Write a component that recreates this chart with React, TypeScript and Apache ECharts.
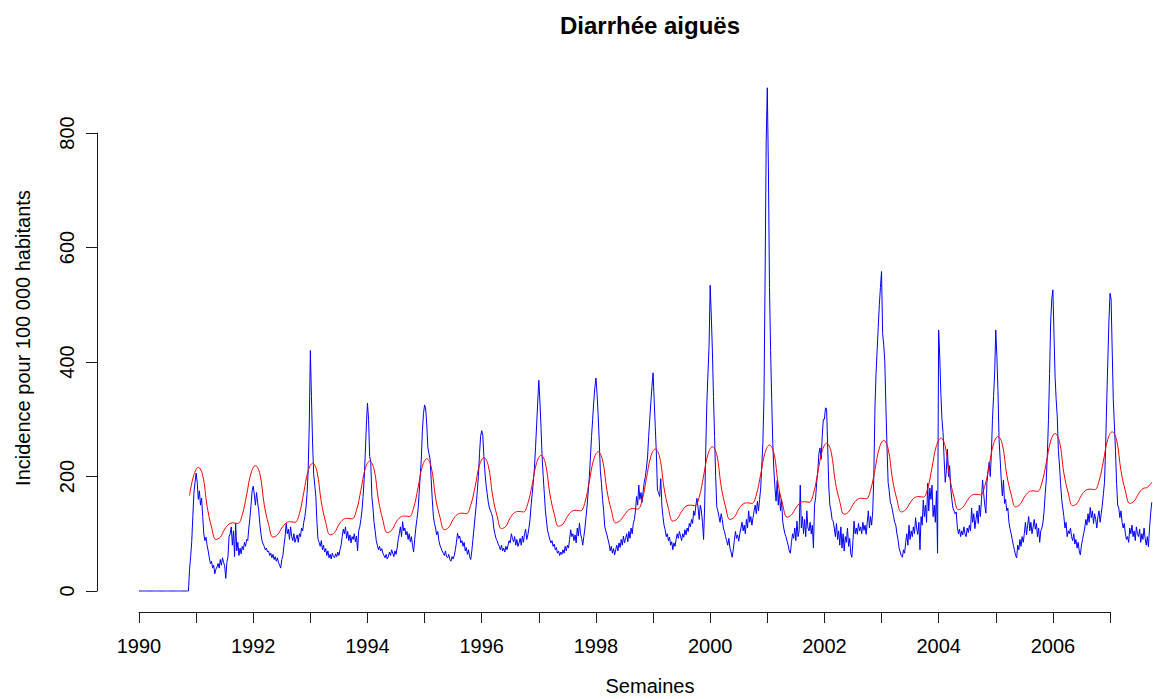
import React, { useEffect, useRef } from "react";
import * as echarts from "echarts";

// ---- Blue series: weekly incidence, one array per year (week 1..52) ----
const b1990 = [
  0, 0, 0, 0, 0, 0, 0, 0, 0, 0, 0, 0, 0, 0, 0, 0, 0, 0, 0, 0,
  0, 0, 0, 0, 0, 0, 0, 0, 0, 0, 0, 0, 0, 0, 0, 0, 0, 0, 0, 0,
  0, 0, 0, 0, 0, 0, 37, 60, 86, 130, 171, 190,
];
const b1991 = [
  206, 190, 160, 175, 150, 162, 130, 100, 88, 94,
  80, 70, 58, 48, 52, 40, 45, 30, 38, 42,
  48, 40, 55, 45, 58, 50, 44, 22, 50, 60,
  95, 100, 112, 80, 105, 60, 118, 70, 85, 62,
  75, 65, 78, 72, 85, 78, 90, 88, 110, 128,
  150, 175,
];
const b1992 = [
  183, 168, 150, 172, 155, 140, 118, 100, 88, 82,
  78, 72, 75, 68, 70, 62, 66, 58, 64, 55,
  60, 52, 58, 50, 45, 40, 55, 62, 80, 95,
  118, 100, 108, 90, 112, 95, 88, 100, 85, 92,
  98, 85, 100, 95, 110, 105, 120, 130, 145, 170,
  210, 290,
];
const b1993 = [
  420, 340, 260, 205, 185, 165, 120, 90, 85, 78,
  88, 72, 80, 68, 74, 62, 70, 58, 64, 56,
  66, 60, 58, 65, 60, 68, 62, 72, 80, 95,
  108, 100, 112, 92, 104, 88, 98, 84, 95, 90,
  100, 86, 96, 70, 105, 112, 125, 140, 165, 195,
  240, 290,
];
const b1994 = [
  328, 300, 235, 225, 165, 145, 120, 105, 88, 80,
  72, 78, 70, 74, 66, 62, 58, 64, 56, 60,
  68, 62, 72, 66, 60, 70, 64, 75, 90, 100,
  112, 95, 121, 105, 110, 98, 104, 90, 100, 86,
  95, 80, 68, 90, 110, 125, 140, 170, 200, 230,
  280, 310,
];
const b1995 = [
  325, 318, 290, 250, 240, 230, 195, 160, 130, 118,
  110, 98, 104, 88, 80, 75, 70, 66, 62, 70,
  60, 58, 64, 55, 52, 60, 56, 62, 72, 85,
  101, 92, 96, 84, 88, 78, 85, 70, 76, 64,
  72, 60, 55, 70, 90, 110, 130, 150, 175, 200,
  240, 270,
];
const b1996 = [
  280, 272, 235, 206, 185, 170, 155, 145, 140, 135,
  128, 110, 100, 92, 88, 82, 78, 72, 80, 70,
  75, 68, 78, 72, 80, 88, 84, 100, 92, 86,
  95, 80, 90, 78, 84, 92, 80, 96, 85, 100,
  108, 90, 98, 110, 125, 150, 170, 190, 215, 250,
  290, 330,
];
const b1997 = [
  368, 330, 286, 234, 200, 170, 140, 122, 105, 98,
  90, 84, 88, 78, 82, 72, 76, 66, 70, 62,
  68, 64, 72, 66, 78, 70, 80, 75, 90, 107,
  95, 100, 88, 98, 84, 110, 96, 119, 100, 92,
  80, 95, 110, 130, 150, 175, 200, 234, 270, 300,
  330, 355,
];
const b1998 = [
  372, 345, 308, 262, 211, 188, 160, 141, 113, 105,
  98, 90, 82, 70, 78, 66, 74, 63, 72, 80,
  70, 84, 76, 90, 80, 96, 84, 92, 100, 86,
  104, 92, 110, 100, 118, 125, 140, 165, 150, 185,
  160, 172, 155, 175, 190, 200, 215, 234, 270, 300,
  330, 357,
];
const b1999 = [
  381, 334, 287, 241, 176, 172, 165, 196, 150, 130,
  115, 107, 95, 100, 88, 94, 80, 86, 72, 84,
  78, 90, 100, 92, 104, 96, 88, 100, 94, 107,
  98, 110, 104, 118, 112, 125, 118, 140, 132, 150,
  162, 145, 125, 150, 140, 120, 90, 150, 250, 330,
  380, 430,
];
const b2000 = [
  534, 482, 421, 340, 270, 200, 147, 140, 130, 120,
  135, 125, 110, 104, 95, 88, 80, 92, 75, 68,
  59, 72, 88, 104, 92, 98, 87, 100, 110, 120,
  105, 115, 100, 125, 110, 140, 120, 130, 115, 128,
  140, 150, 135, 157, 140, 160, 180, 220, 260, 339,
  548, 784,
];
const b2001 = [
  879, 739, 530, 420, 335, 258, 211, 180, 157, 193,
  150, 175, 140, 160, 122, 110, 100, 95, 87, 80,
  70, 66, 85, 100, 92, 110, 88, 122, 95, 105,
  185, 110, 130, 100, 125, 95, 140, 110, 105, 120,
  100, 115, 75, 150, 163, 190, 210, 240, 250, 230,
  270, 300,
];
const b2002 = [
  300, 320, 318, 250, 182, 150, 140, 125, 122, 110,
  95, 118, 90, 105, 80, 112, 75, 100, 70, 95,
  85, 110, 78, 92, 65, 59, 88, 122, 100, 110,
  99, 118, 105, 112, 100, 120, 106, 115, 99, 120,
  140, 110, 130, 115, 140, 200, 320, 380, 420, 460,
  500, 530,
];
const b2003 = [
  558, 450, 430, 400, 320, 250, 190, 175, 155, 150,
  140, 130, 120, 115, 100, 90, 75, 68, 62, 59,
  72, 66, 85, 100, 80, 115, 90, 105, 95, 112,
  100, 128, 110, 99, 120, 72, 130, 115, 159, 130,
  150, 120, 188, 140, 180, 160, 185, 130, 150, 120,
  175, 66,
];
const b2004 = [
  456, 409, 346, 300, 277, 230, 190, 210, 248, 200,
  219, 180, 160, 145, 140, 135, 138, 112, 100, 108,
  95, 105, 98, 112, 100, 95, 110, 102, 115, 105,
  145, 120, 135, 109, 125, 140, 118, 150, 130, 160,
  194, 170, 150, 136, 190, 210, 225, 200, 240, 300,
  340, 381,
];
const b2005 = [
  456, 410, 350, 265, 230, 194, 166, 194, 153, 160,
  140, 145, 120, 109, 100, 90, 80, 72, 62, 58,
  80, 72, 90, 78, 95, 85, 100, 120, 98, 115,
  130, 105, 120, 100, 112, 125, 108, 118, 95, 110,
  85, 105, 110, 120, 140, 170, 194, 240, 300, 380,
  470, 510,
];
const b2006 = [
  526, 450, 374, 334, 304, 246, 220, 188, 160, 145,
  130, 110, 120, 95, 105, 100, 110, 95, 88, 100,
  82, 90, 75, 85, 70, 63, 80, 90, 100, 110,
  125, 115, 135, 120, 146, 128, 140, 118, 135, 125,
  110, 130, 140, 120, 135, 150, 170, 190, 250, 330,
  400, 470,
];
const b2007 = [
  520, 510, 421, 334, 290, 246, 188, 150, 145, 128,
  140, 120, 110, 118, 100, 90, 95, 85, 110, 100,
  115, 95, 105, 88, 112, 100, 95, 108, 85, 100,
  90, 110, 92, 80, 95, 77, 110, 135, 155,
];

const blueYears = [
  1990, 1991, 1992, 1993, 1994, 1995, 1996, 1997, 1998,
  1999, 2000, 2001, 2002, 2003, 2004, 2005, 2006, 2007,
];
const blueValues = [
  b1990, b1991, b1992, b1993, b1994, b1995, b1996, b1997, b1998,
  b1999, b2000, b2001, b2002, b2003, b2004, b2005, b2006, b2007,
];

// ---- Red series: seasonal baseline, sampled every 4 weeks ----
const redWeeks = [3, 7, 11, 15, 19, 23, 27, 31, 35, 39, 43, 47, 51];
const red1990Weeks = [47, 51];
const r1990 = [167, 203];
const r1991 = [216, 202, 148, 112, 90, 94, 108, 117, 119, 118, 133, 168, 206];
const r1992 = [219, 205, 151, 116, 94, 98, 110, 119, 121, 120, 135, 172, 210];
const r1993 = [223, 209, 155, 120, 98, 102, 116, 125, 127, 126, 141, 176, 214];
const r1994 = [227, 213, 159, 124, 102, 106, 120, 129, 131, 130, 145, 180, 218];
const r1995 = [231, 217, 163, 129, 107, 111, 125, 134, 136, 135, 150, 182, 220];
const r1996 = [233, 219, 166, 131, 109, 113, 128, 137, 139, 138, 153, 186, 224];
const r1997 = [237, 223, 170, 135, 113, 117, 130, 139, 141, 140, 155, 192, 230];
const r1998 = [243, 229, 176, 141, 119, 123, 133, 142, 144, 143, 158, 197, 235];
const r1999 = [248, 234, 180, 144, 122, 126, 139, 148, 150, 149, 164, 201, 239];
const r2000 = [252, 238, 183, 147, 125, 129, 143, 152, 154, 153, 168, 204, 242];
const r2001 = [255, 241, 186, 151, 129, 133, 145, 154, 156, 155, 170, 207, 245];
const r2002 = [258, 244, 190, 156, 134, 138, 151, 160, 162, 161, 176, 212, 250];
const r2003 = [263, 249, 195, 160, 138, 142, 154, 163, 165, 164, 179, 216, 254];
const r2004 = [267, 253, 199, 164, 142, 146, 158, 167, 169, 168, 183, 219, 257];
const r2005 = [270, 256, 203, 169, 147, 151, 164, 173, 175, 174, 189, 224, 262];
const r2006 = [275, 261, 206, 171, 149, 153, 167, 176, 178, 177, 192, 227, 265];
const r2007 = [278, 264, 210, 175, 153, 157, 170, 179, 181, 190];

const redYears = [
  1991, 1992, 1993, 1994, 1995, 1996, 1997, 1998, 1999,
  2000, 2001, 2002, 2003, 2004, 2005, 2006, 2007,
];
const redValues = [
  r1991, r1992, r1993, r1994, r1995, r1996, r1997, r1998, r1999,
  r2000, r2001, r2002, r2003, r2004, r2005, r2006, r2007,
];

// ---- Axis ticks / labels ----
const xTickYears = [1990, 2007];
const yTicks = [0, 800];
const title = "Diarrhée aiguës";
const xTitle = "Semaines";
const yTitle = "Incidence pour 100 000 habitants";

const FONT = "'Liberation Sans', Arial, Helvetica, sans-serif";

function buildBlue(): number[][] {
  const pts: number[][] = [];
  blueYears.forEach((yr, k) => {
    blueValues[k].forEach((v, i) => pts.push([yr + i / 52, v]));
  });
  return pts;
}

function buildRed(): number[][] {
  const pts: number[][] = [];
  r1990.forEach((v, i) => pts.push([1990 + (red1990Weeks[i] - 1) / 52, v]));
  redYears.forEach((yr, k) => {
    redValues[k].forEach((v, i) => pts.push([yr + (redWeeks[i] - 1) / 52, v]));
  });
  return pts;
}

export default function App() {
  const ref = useRef<HTMLDivElement>(null);

  useEffect(() => {
    if (!ref.current) return;
    const chart = echarts.init(ref.current, undefined, { renderer: "svg" });
    const pxPerYear = 971 / (xTickYears[1] - xTickYears[0]);
    const xMax = xTickYears[0] + 1014 / pxPerYear;
    const axisColor = "#1a1a1a";

    chart.setOption({
      animation: false,
      backgroundColor: "#ffffff",
      grid: [
        { left: 139, top: 75.75, width: 1014, height: 515.25 },
        { left: 139, top: 611, width: 971, height: 1 },
        { left: 97, top: 133, width: 1, height: 458 },
      ],
      xAxis: [
        { gridIndex: 0, type: "value", min: xTickYears[0], max: xMax, show: false },
        {
          gridIndex: 1,
          type: "value",
          min: xTickYears[0],
          max: xTickYears[1],
          interval: 1,
          axisLine: { show: true, lineStyle: { color: axisColor, width: 1 } },
          axisTick: { show: true, length: 11, lineStyle: { color: axisColor, width: 1 } },
          axisLabel: {
            show: true,
            fontSize: 20,
            fontFamily: FONT,
            color: "#000",
            margin: 24,
            showMinLabel: true,
            showMaxLabel: true,
            formatter: (v: number) => (Math.round(v) % 2 === 0 ? String(Math.round(v)) : ""),
          },
          splitLine: { show: false },
        },
        { gridIndex: 2, type: "value", show: false },
      ],
      yAxis: [
        { gridIndex: 0, type: "value", min: 0, max: 900, show: false },
        { gridIndex: 1, type: "value", show: false },
        {
          gridIndex: 2,
          type: "value",
          min: yTicks[0],
          max: yTicks[1],
          interval: 200,
          axisLine: { show: true, lineStyle: { color: axisColor, width: 1 } },
          axisTick: { show: true, length: 11, lineStyle: { color: axisColor, width: 1 } },
          axisLabel: {
            show: true,
            rotate: 90,
            fontSize: 20,
            fontFamily: FONT,
            color: "#000",
            margin: 20,
            showMinLabel: true,
            showMaxLabel: true,
          },
          splitLine: { show: false },
        },
      ],
      series: [
        {
          type: "line",
          xAxisIndex: 0,
          yAxisIndex: 0,
          data: buildBlue(),
          symbol: "none",
          showSymbol: false,
          clip: false,
          silent: true,
          lineStyle: { color: "#0000ff", width: 1 },
        },
        {
          type: "line",
          xAxisIndex: 0,
          yAxisIndex: 0,
          data: buildRed(),
          symbol: "none",
          showSymbol: false,
          smooth: 0.4,
          clip: false,
          silent: true,
          lineStyle: { color: "#ff0000", width: 1 },
        },
      ],
      graphic: [
        {
          type: "text",
          x: 650,
          y: 25,
          style: {
            text: title,
            font: `bold 24px ${FONT}`,
            fill: "#000",
            textAlign: "center",
            textVerticalAlign: "middle",
          },
        },
        {
          type: "text",
          x: 650,
          y: 686,
          style: {
            text: xTitle,
            font: `20px ${FONT}`,
            fill: "#000",
            textAlign: "center",
            textVerticalAlign: "middle",
          },
        },
        {
          type: "text",
          x: 23,
          y: 338,
          rotation: Math.PI / 2,
          style: {
            text: yTitle,
            font: `20px ${FONT}`,
            fill: "#000",
            textAlign: "center",
            textVerticalAlign: "middle",
          },
        },
      ],
    });

    return () => chart.dispose();
  }, []);

  return (
    <div
      ref={ref}
      style={{ position: "fixed", left: 0, top: 0, width: 1153, height: 699, background: "#fff" }}
    />
  );
}
